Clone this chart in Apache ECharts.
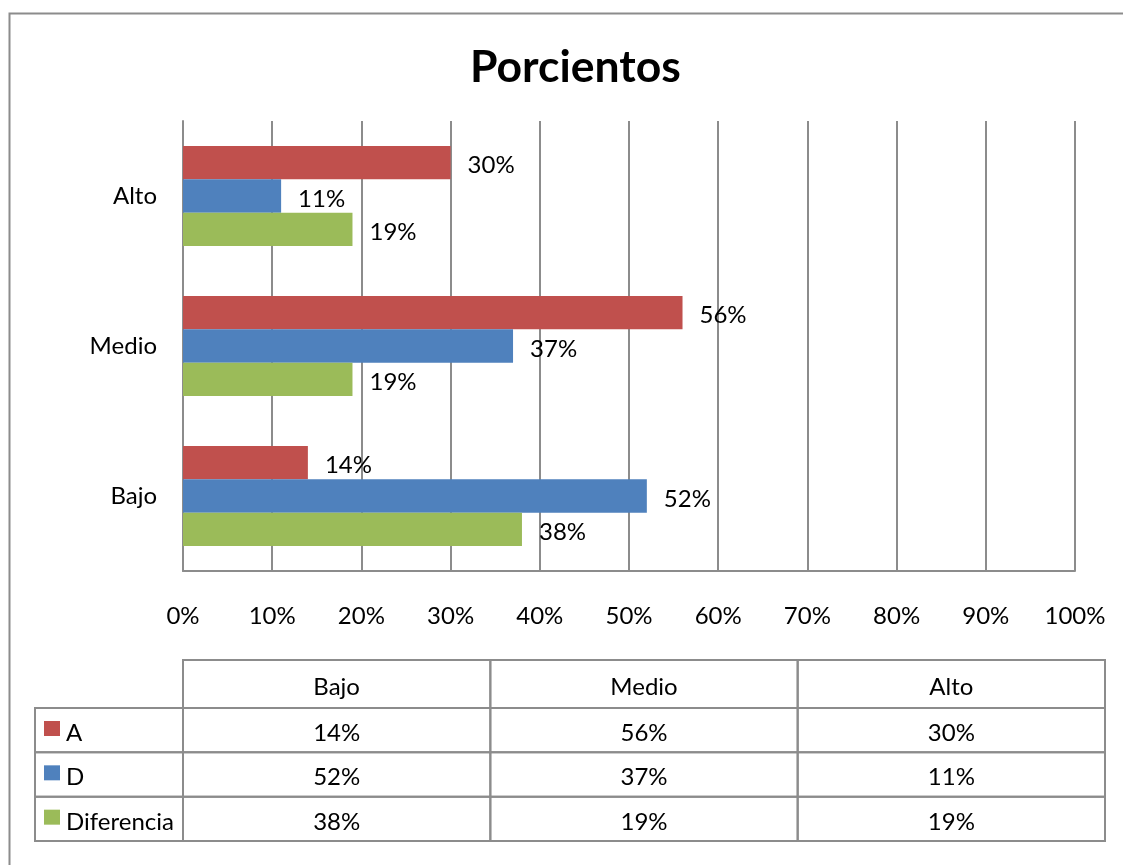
<!DOCTYPE html>
<html>
<head>
<meta charset="utf-8">
<script src="https://cdn.jsdelivr.net/npm/echarts@6/dist/echarts.min.js"></script>
<style>
html, body { margin: 0; padding: 0; background: #fff; }
#chart { width: 1123px; height: 865px; }
</style>
</head>
<body>
<div id="chart"></div>
<script>
// categories (bottom to top on the bar chart)
const niveles = ['Bajo', 'Medio', 'Alto'];
const seriesNames = ['A', 'D', 'Diferencia'];
const colors = ['#C0504D', '#4F81BD', '#9BBB59'];

// percent values per level: Bajo, Medio, Alto
const valoresA = [14, 56, 30];
const valoresD = [52, 37, 11];
const valoresDif = [38, 19, 19];

const xTicks = [0, 10, 20, 30, 40, 50, 60, 70, 80, 90, 100];

const font = 'Lato, "Noto Sans", sans-serif';
const fs = 24;
const gris = '#8c8c8c';

const allValues = [valoresA, valoresD, valoresDif];

// table cells: [col, row, value]
const tableCells = [];
allValues.forEach((vals, r) => {
    vals.forEach((v, c) => tableCells.push([c, r, v]));
});

const myChart = echarts.init(document.getElementById('chart'));

const barSeries = allValues.map((vals, i) => ({
    name: seriesNames[i],
    type: 'bar',
    xAxisIndex: 0,
    yAxisIndex: 0,
    data: vals,
    barGap: 0,
    barCategoryGap: '33.3%',
    itemStyle: { color: colors[i] },
    label: {
        show: true,
        position: 'right',
        distance: 17,
        offset: [0, 3],
        formatter: '{c}%',
        fontFamily: font,
        fontSize: fs,
        color: '#000'
    }
}));

const option = {
    animation: false,
    backgroundColor: '#fff',
    title: {
        text: 'Porcientos',
        left: 465,
        top: 40,
        textStyle: { fontFamily: font, fontSize: 44.5, fontWeight: 'bold', color: '#000' }
    },
    graphic: [
        {
            type: 'rect',
            left: 7,
            top: 11,
            shape: { width: 1200, height: 900 },
            style: { fill: 'none', stroke: gris, lineWidth: 2 },
            silent: true
        }
    ],
    grid: [
        { left: 183, top: 121, width: 892, height: 450 },
        { left: 183, top: 708, width: 922, height: 133 }
    ],
    xAxis: [
        {
            gridIndex: 0,
            type: 'value',
            min: xTicks[0],
            max: xTicks[xTicks.length - 1],
            interval: 10,
            axisLine: { show: true, lineStyle: { color: gris, width: 2 } },
            axisTick: { show: false },
            splitLine: { show: true, lineStyle: { color: gris, width: 2 } },
            axisLabel: {
                formatter: '{value}%',
                margin: 33,
                fontFamily: font,
                fontSize: fs,
                color: '#000'
            }
        },
        {
            gridIndex: 1,
            type: 'category',
            data: niveles,
            show: false
        }
    ],
    yAxis: [
        {
            gridIndex: 0,
            type: 'category',
            data: niveles,
            axisLine: { show: true, lineStyle: { color: gris, width: 2 } },
            axisTick: { show: false },
            axisLabel: {
                margin: 26,
                padding: [4, 0, 0, 0],
                fontFamily: font,
                fontSize: fs,
                color: '#000'
            }
        },
        {
            gridIndex: 1,
            type: 'category',
            data: seriesNames,
            inverse: true,
            show: false
        }
    ],
    series: barSeries.concat([
        {
            // value cells of the data table
            type: 'custom',
            xAxisIndex: 1,
            yAxisIndex: 1,
            data: tableCells,
            renderItem: function (params, api) {
                const c = api.coord([api.value(0), api.value(1)]);
                const s = api.size([1, 1]);
                return {
                    type: 'group',
                    children: [
                        {
                            type: 'rect',
                            shape: { x: c[0] - s[0] / 2, y: c[1] - s[1] / 2, width: s[0], height: s[1] },
                            style: { fill: 'none', stroke: gris, lineWidth: 2 }
                        },
                        {
                            type: 'text',
                            style: {
                                text: api.value(2) + '%',
                                x: c[0], y: c[1] + 3,
                                align: 'center', verticalAlign: 'middle',
                                font: fs + 'px ' + font, fill: '#000'
                            }
                        }
                    ]
                };
            }
        },
        {
            // header row (level names)
            type: 'custom',
            xAxisIndex: 1,
            yAxisIndex: 1,
            data: niveles.map((n, i) => [i, 0]),
            renderItem: function (params, api) {
                const c = api.coord([api.value(0), 0]);
                const s = api.size([1, 1]);
                const h = 48;
                const top = c[1] - s[1] / 2 - h;
                return {
                    type: 'group',
                    children: [
                        {
                            type: 'rect',
                            shape: { x: c[0] - s[0] / 2, y: top, width: s[0], height: h },
                            style: { fill: 'none', stroke: gris, lineWidth: 2 }
                        },
                        {
                            type: 'text',
                            style: {
                                text: niveles[api.value(0)],
                                x: c[0], y: top + h / 2 + 3,
                                align: 'center', verticalAlign: 'middle',
                                font: fs + 'px ' + font, fill: '#000'
                            }
                        }
                    ]
                };
            }
        },
        {
            // row headers with legend keys
            type: 'custom',
            xAxisIndex: 1,
            yAxisIndex: 1,
            data: seriesNames.map((n, i) => [0, i]),
            renderItem: function (params, api) {
                const r = api.value(1);
                const c = api.coord([0, r]);
                const s = api.size([1, 1]);
                const right = c[0] - s[0] / 2;
                const left = 35;
                const top = c[1] - s[1] / 2;
                return {
                    type: 'group',
                    children: [
                        {
                            type: 'rect',
                            shape: { x: left, y: top, width: right - left, height: s[1] },
                            style: { fill: 'none', stroke: gris, lineWidth: 2 }
                        },
                        {
                            type: 'rect',
                            shape: { x: 44, y: top + 13, width: 16, height: 15 },
                            style: { fill: colors[r] }
                        },
                        {
                            type: 'text',
                            style: {
                                text: seriesNames[r],
                                x: 66, y: c[1] + 3,
                                align: 'left', verticalAlign: 'middle',
                                font: fs + 'px ' + font, fill: '#000'
                            }
                        }
                    ]
                };
            }
        }
    ])
};

myChart.setOption(option);
</script>
</body>
</html>
